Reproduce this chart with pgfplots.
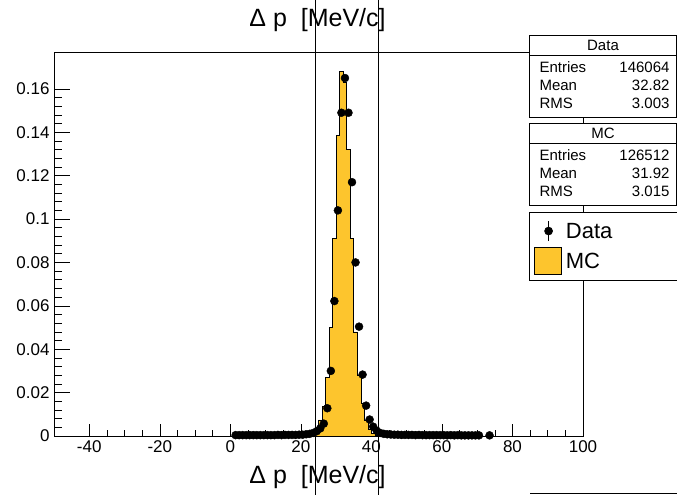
\documentclass[border=0pt]{standalone}
\usepackage{pgfplots}
\pgfplotsset{compat=1.18}
\usepackage{fontspec}
\setmainfont{Liberation Sans}
\definecolor{mcfill}{RGB}{253,197,45}
\begin{document}
\begin{tikzpicture}[x=1pt,y=1pt]
\useasboundingbox (0,0) rectangle (677,495);
\begin{axis}[
  at={(54pt,59pt)}, anchor=south west,
  width=529pt, height=384pt, scale only axis,
  xmin=-50, xmax=100, ymin=0, ymax=0.177,
  xtick={-40,-20,0,20,40,60,80,100},
  xticklabels={-40,-20,0,20,40,60,80,100},
  ytick={0,0.02,0.04,0.06,0.08,0.1,0.12,0.14,0.16},
  yticklabels={0,0.02,0.04,0.06,0.08,0.1,0.12,0.14,0.16},
  minor x tick num=3,
  minor y tick num=4,
  tick align=inside,
  xtick pos=bottom, ytick pos=left,
  xtick style={/pgfplots/major tick length=11.5pt,/pgfplots/minor tick length=6pt,black,line width=0.6pt},
  ytick style={/pgfplots/major tick length=16pt,/pgfplots/minor tick length=8pt,black,line width=0.6pt},
  axis line style={line width=0.6pt},
  tick label style={font=\fontsize{17}{17}\selectfont},
  xticklabel style={yshift=-1pt},
  yticklabel style={xshift=-1pt},
  reverse legend,
  legend cell align=left,
  legend style={at={(0.8979,0.584)}, anchor=north west, draw=black, fill=white,
    line width=0.6pt, inner xsep=5pt, inner ysep=4pt, row sep=0pt,
    font=\fontsize{22}{22}\selectfont,
    nodes={text width=105pt, inner xsep=4pt, inner ysep=0pt, text height=22pt, text depth=8pt}},
]
\addplot[const plot mark left, fill=mcfill, draw=black, line width=0.6pt,
  legend image code/.code={\draw[fill=mcfill,draw=black,line width=0.6pt] (0pt,-13.5pt) rectangle (27pt,13.5pt);}]
coordinates {(22,0)(23,0.0006)(24,0.003)(25,0.0074)(26,0.0135)(27,0.027)(28,0.050)(29,0.0912)(30,0.1387)(31,0.168)(32,0.163)(33,0.1321)(34,0.0911)(35,0.048)(36,0.028)(37,0.015)(38,0.0074)(39,0.003)(40,0.0012)(41,0.0004)(42,0)} \closedcycle;
\addlegendentry{MC}
\addplot[only marks, mark=*, mark size=4pt, black,
  legend image code/.code={\draw[black,line width=0.8pt] (14pt,-10pt)--(14pt,10pt); \fill[black] (14pt,0pt) circle (4pt);}]
coordinates {(1.5,0.0004)(2.5,0.0004)(3.5,0.0004)(4.5,0.0004)(5.5,0.0004)(6.5,0.0004)(7.5,0.0004)(8.5,0.0004)(9.5,0.0004)(10.5,0.0004)(11.5,0.0004)(12.5,0.0004)(13.5,0.0005)(14.5,0.0004)(15.5,0.0005)(16.5,0.0005)(17.5,0.0005)(18.5,0.0005)(19.5,0.0006)(20.5,0.0006)(21.5,0.0008)(22.5,0.0010)(23.5,0.0014)(24.5,0.0022)(25.5,0.0035)(26.5,0.0057)(27.5,0.0128)(28.5,0.030)(29.5,0.0622)(30.5,0.104)(31.5,0.149)(32.5,0.165)(33.5,0.149)(34.5,0.117)(35.5,0.080)(36.5,0.0504)(37.5,0.0283)(38.5,0.0140)(39.5,0.0076)(40.5,0.0043)(41.5,0.0024)(42.5,0.0014)(43.5,0.0010)(44.5,0.0008)(45.5,0.0007)(46.5,0.0006)(47.5,0.0006)(48.5,0.0005)(49.5,0.0005)(50.5,0.0005)(51.5,0.0005)(52.5,0.0004)(53.5,0.0005)(54.5,0.0004)(55.5,0.0004)(56.5,0.0004)(57.5,0.0004)(58.5,0.0004)(59.5,0.0004)(60.5,0.0004)(61.5,0.0003)(62.5,0.0004)(63.5,0.0003)(64.5,0.0004)(65.5,0.0003)(66.5,0.0003)(67.5,0.0003)(68.5,0.0003)(69.5,0.0003)(70.5,0.0003)(73.5,0.0003)};
\addlegendentry{Data}
\end{axis}
% stats box Data
\draw[fill=white,line width=0.6pt] (529,460) rectangle (676.5,378);
\draw[line width=0.6pt] (529,440) -- (676.5,440);
\begin{scope}[every node/.style={font=\fontsize{15}{15}\selectfont}]
\node at (603,450) {Data};
\node[anchor=mid west] at (536,425) {Entries};
\node[anchor=mid east] at (673,425) {146064};
\node[anchor=mid west] at (536,407) {Mean};
\node[anchor=mid east] at (673,407) {32.82};
\node[anchor=mid west] at (536,389) {RMS};
\node[anchor=mid east] at (673,389) {3.003};
\end{scope}
% stats box MC
\draw[fill=white,line width=0.6pt] (529,372) rectangle (676.5,290);
\draw[line width=0.6pt] (529,352) -- (676.5,352);
\begin{scope}[every node/.style={font=\fontsize{15}{15}\selectfont}]
\node at (603,362) {MC};
\node[anchor=mid west] at (536,337) {Entries};
\node[anchor=mid east] at (673,337) {126512};
\node[anchor=mid west] at (536,319) {Mean};
\node[anchor=mid east] at (673,319) {31.92};
\node[anchor=mid west] at (536,301) {RMS};
\node[anchor=mid east] at (673,301) {3.015};
\end{scope}
% title and x label
\node[anchor=base,font=\fontsize{25}{25}\selectfont] at (317.5,468) {Δ p \ [MeV/c]};
\node[anchor=base,font=\fontsize{25}{25}\selectfont] at (317.5,12) {Δ p \ [MeV/c]};
% vertical lines
\draw[line width=0.6pt] (315,0) -- (315,495);
\draw[line width=0.6pt] (378.5,0) -- (378.5,495);
\draw[line width=0.6pt] (530,2) -- (677,2);
\end{tikzpicture}
\end{document}
